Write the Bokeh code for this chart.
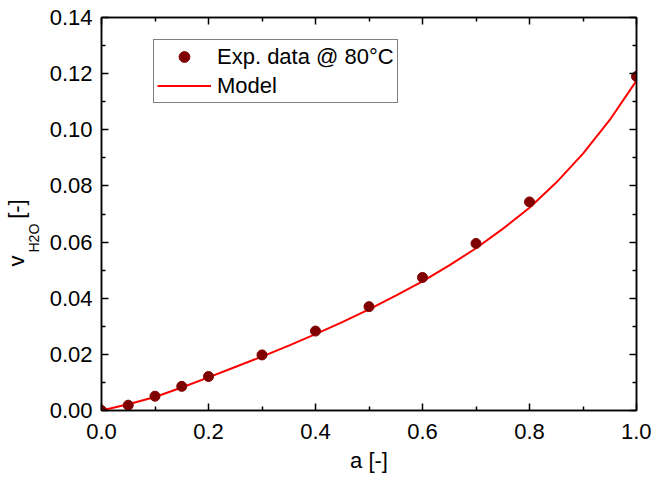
from bokeh.plotting import figure
from bokeh.models import (LinearAxis, Range1d, FixedTicker, PrintfTickFormatter,
                          Legend, LegendItem, CustomJSTickFormatter, Title)
from bokeh.embed import file_html
from bokeh.resources import INLINE

# Experimental data @ 80 °C
exp_a = [0.0, 0.05, 0.10, 0.15, 0.20, 0.30, 0.40, 0.50, 0.60, 0.70, 0.80, 1.00]
exp_v = [0.0, 0.0019, 0.0051, 0.0086, 0.0121, 0.0198, 0.0283, 0.0370, 0.0474, 0.0595, 0.0743, 0.1190]

# Model curve
model_a = [0.0, 0.05, 0.10, 0.15, 0.20, 0.25, 0.30, 0.35, 0.40, 0.45, 0.50,
           0.55, 0.60, 0.65, 0.70, 0.75, 0.80, 0.85, 0.90, 0.95, 1.00]
model_v = [0.0, 0.0022, 0.0048, 0.0082, 0.0118, 0.0155, 0.0192, 0.0231, 0.0272, 0.0315, 0.0360,
           0.0409, 0.0460, 0.0517, 0.0578, 0.0647, 0.0722, 0.0812, 0.0915, 0.1035, 0.1175]

x_ticks = [0.0, 0.2, 0.4, 0.6, 0.8, 1.0]
y_ticks = [0.00, 0.02, 0.04, 0.06, 0.08, 0.10, 0.12, 0.14]

FONT = "Liberation Sans"
FS = "22px"

p = figure(width=651, height=483, output_backend="svg", toolbar_location=None,
           x_range=Range1d(0, 1), y_range=Range1d(0, 0.14),
           min_border_left=101, min_border_right=15, min_border_top=17, min_border_bottom=73)
p.grid.visible = False
p.outline_line_color = "black"
p.outline_line_width = 1.5
p.background_fill_color = "white"
p.border_fill_color = "white"

def style_axis(ax, ticks, fmt, labels=True):
    step = ticks[1] - ticks[0]
    ax.ticker = FixedTicker(ticks=ticks, minor_ticks=[t + step / 2 for t in ticks[:-1]])
    ax.axis_line_color = "black"
    ax.axis_line_width = 1.5
    ax.major_tick_in = 7
    ax.major_tick_out = 0
    ax.minor_tick_in = 4
    ax.minor_tick_out = 0
    ax.major_tick_line_width = 1.5
    ax.minor_tick_line_width = 1.5
    ax.major_tick_line_color = "black"
    ax.minor_tick_line_color = "black"
    if labels:
        ax.formatter = PrintfTickFormatter(format=fmt)
        ax.major_label_text_font = FONT
        ax.major_label_text_font_size = FS
        ax.major_label_text_color = "black"
    else:
        ax.formatter = CustomJSTickFormatter(code="return ''")
        ax.major_label_text_font_size = "0px"
        ax.major_label_standoff = 0

xa = p.xaxis[0]
style_axis(xa, x_ticks, "%.1f")
xa.major_label_standoff = 13
xa.axis_label = "a [-]"
xa.axis_label_text_font = FONT
xa.axis_label_text_font_size = FS
xa.axis_label_text_font_style = "normal"
xa.axis_label_text_color = "black"
xa.axis_label_standoff = 6

ya = p.yaxis[0]
style_axis(ya, y_ticks, "%.2f")
ya.major_label_standoff = 9

top = LinearAxis()
style_axis(top, x_ticks, "", labels=False)
p.add_layout(top, "above")
right = LinearAxis()
style_axis(right, y_ticks, "", labels=False)
p.add_layout(right, "right")

line_r = p.line(model_a, model_v, line_color="#ff0000", line_width=2)
pts_r = p.scatter(exp_a, exp_v, size=10, fill_color="#800000", line_color="#800000")

legend = Legend(items=[LegendItem(label="Exp. data @ 80°C", renderers=[pts_r]),
                       LegendItem(label="Model", renderers=[line_r])],
                location=(52, 307))
legend.label_text_font = FONT
legend.label_text_font_size = FS
legend.label_text_color = "black"
legend.glyph_width = 54
legend.glyph_height = 27
legend.label_height = 27
legend.spacing = 2
legend.padding = 3
legend.margin = 0
legend.label_standoff = 6
legend.border_line_color = "black"
legend.border_line_width = 1
legend.background_fill_alpha = 1
p.add_layout(legend, "center")

# y-axis label: v with subscript H2O, then [-]
sub = Title(text="H2O", align="left", offset=158, standoff=10,
            text_font=FONT, text_font_size="14px", text_font_style="normal", text_color="black")
p.add_layout(sub, "left")
main = Title(text="v\u00a0\u00a0\u00a0\u00a0\u00a0\u00a0[-]", align="left", offset=144, standoff=-21,
             text_font=FONT, text_font_size=FS, text_font_style="normal", text_color="black")
p.add_layout(main, "left")

open("out.html", "w").write(file_html(p, INLINE))
